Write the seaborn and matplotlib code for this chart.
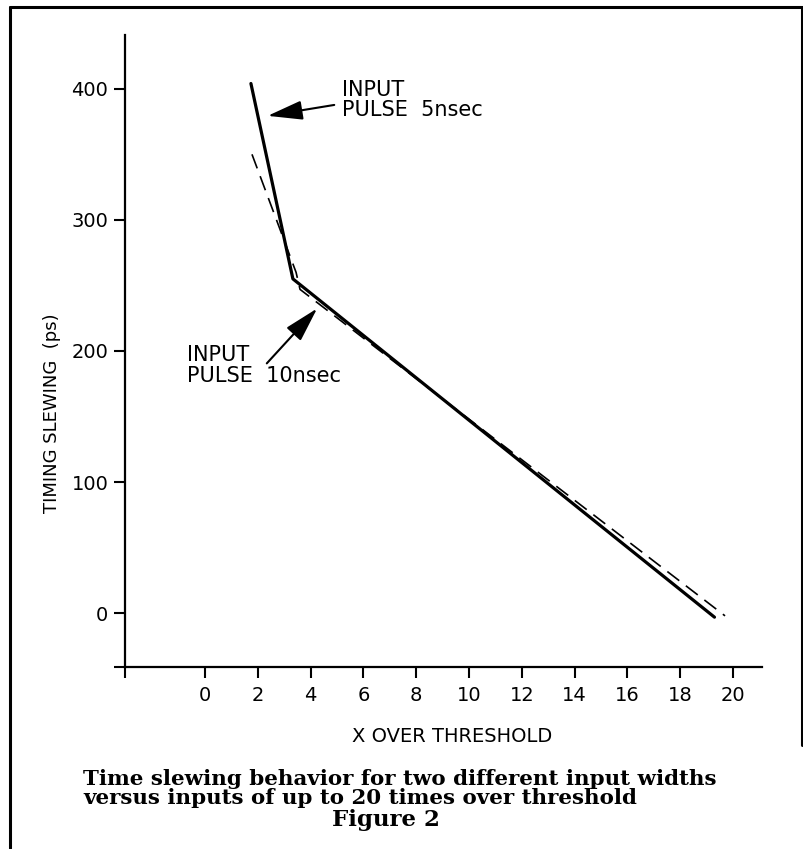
import numpy as np
import pandas as pd
import seaborn as sns
import matplotlib.pyplot as plt
from matplotlib.lines import Line2D

# values
solid_x = [1.74, 3.33, 19.3]
solid_y = [404, 255, -3]
dashed_x = [1.78, 3.45, 3.6, 19.7]
dashed_y = [350, 260, 247, -2]

x_ticks = [0, 2, 4, 6, 8, 10, 12, 14, 16, 18, 20]
y_ticks = [0, 100, 200, 300, 400]
x_lim = (-3.03, 21.1)
y_lim = (-41, 441)

sns.set_theme(style="white")
plt.rcParams['font.family'] = ['DejaVu Sans']
plt.rcParams['text.color'] = 'black'

fig = plt.figure(figsize=(8.04, 8.49), dpi=100)
ax = fig.add_axes([125 / 804, 182 / 849, 637 / 804, 632 / 849])

df_solid = pd.DataFrame({'x': solid_x, 'y': solid_y})
df_dash = pd.DataFrame({'x': dashed_x, 'y': dashed_y})
sns.lineplot(data=df_solid, x='x', y='y', sort=False, color='black', lw=2.3, ax=ax)
sns.lineplot(data=df_dash, x='x', y='y', sort=False, color='black', lw=1.2,
             linestyle=(0, (9, 5)), ax=ax)

ax.set_xlim(*x_lim)
ax.set_ylim(*y_lim)
ax.set_xticks([x_lim[0]] + x_ticks)
ax.set_xticklabels([''] + [str(t) for t in x_ticks])
ax.set_yticks([y_lim[0]] + y_ticks)
ax.set_yticklabels([''] + [str(t) for t in y_ticks])
ax.tick_params(axis='both', direction='out', length=8, width=1.5, colors='black',
               labelsize=14, bottom=True, left=True)
ax.tick_params(axis='x', pad=6)
ax.tick_params(axis='y', pad=4)
ax.set_xlabel('')
ax.set_ylabel('')
for side in ['top', 'right']:
    ax.spines[side].set_visible(False)
for side in ['left', 'bottom']:
    ax.spines[side].set_color('black')
    ax.spines[side].set_linewidth(1.6)

# annotations
ax.text(5.19, 391.5, 'INPUT\nPULSE  5nsec', fontsize=15, ha='left', va='center',
        linespacing=1.05, color='black')
ax.annotate('', xy=(2.27, 379), xytext=(5.0, 388),
            arrowprops=dict(arrowstyle='-|>,head_length=1.2,head_width=0.33',
                            color='black', lw=1.5, mutation_scale=18))
ax.text(-0.68, 189, 'INPUT\nPULSE  10nsec', fontsize=15, ha='left', va='center',
        linespacing=1.05, color='black')
ax.annotate('', xy=(4.32, 234), xytext=(2.27, 189),
            arrowprops=dict(arrowstyle='-|>,head_length=1.2,head_width=0.33',
                            color='black', lw=1.5, mutation_scale=18))

fig.text(52 / 804, 1 - 413 / 849, 'TIMING SLEWING  (ps)', rotation=90,
         ha='center', va='center', fontsize=13, color='black')
fig.text(452 / 804, 1 - 737 / 849, 'X OVER THRESHOLD', ha='center', va='center',
         fontsize=14, color='black')

cap_font = ['DejaVu Serif']
fig.text(83 / 804, 1 - 779 / 849, 'Time slewing behavior for two different input widths',
         ha='left', va='center', fontsize=15.4, fontweight='bold', family=cap_font,
         color='black')
fig.text(83 / 804, 1 - 798 / 849, 'versus inputs of up to 20 times over threshold',
         ha='left', va='center', fontsize=15.4, fontweight='bold', family=cap_font,
         color='black')
fig.text(386 / 804, 1 - 820 / 849, 'Figure 2', ha='center', va='center',
         fontsize=16.5, fontweight='bold', family=cap_font, color='black')

# page frame
def fl(x0, y0, x1, y1):
    fig.add_artist(Line2D([x0 / 804, x1 / 804], [1 - y0 / 849, 1 - y1 / 849],
                          color='black', lw=2.2, transform=fig.transFigure))

fl(10, 7, 802, 7)
fl(10, 7, 10, 848)
fl(802, 7, 802, 745)

fig.savefig('out.png', dpi=100)
